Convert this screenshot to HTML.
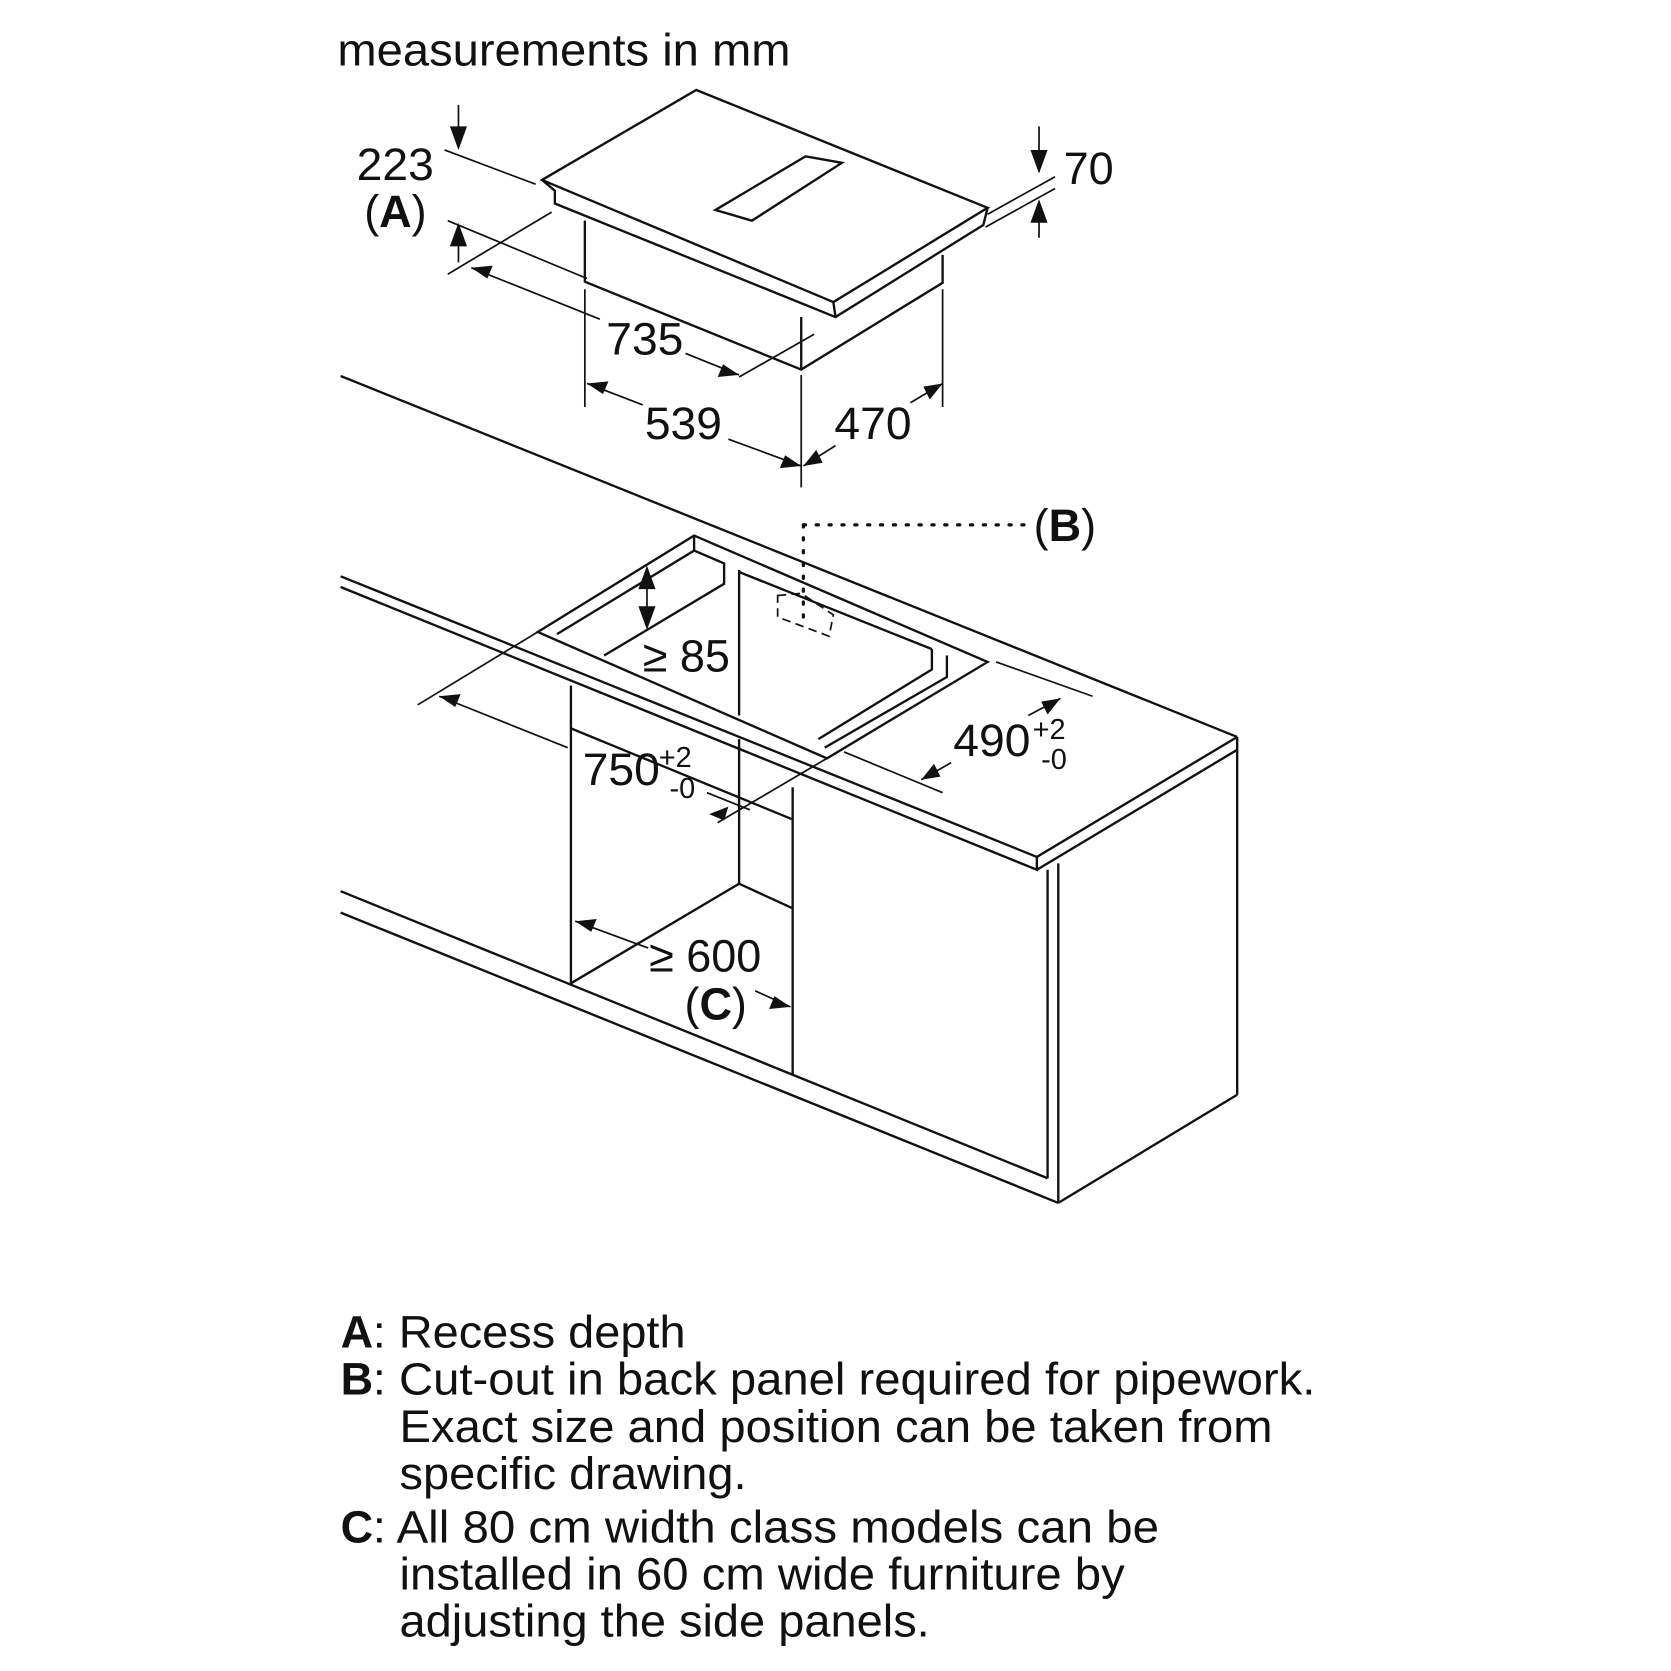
<!DOCTYPE html>
<html><head><meta charset="utf-8"><style>
html,body{margin:0;padding:0;background:#fff}
svg{display:block}
text{font-family:"Liberation Sans",sans-serif;fill:#111}
</style></head><body>
<svg width="1671" height="1671" viewBox="0 0 1560 1560" xmlns="http://www.w3.org/2000/svg">
<g stroke="#111" fill="none" stroke-width="2.2" stroke-linejoin="miter">
<polygon points="506,168 650,84 922,194 778,282" fill="#fff"/>
<polyline points="506,168 518,178 518,190 780,296 918,210 922,194"/>
<line x1="778" y1="282" x2="780" y2="296"/>
<polygon points="668,196 752,146 786,152 702,206" />
<polyline points="546,206 546,263 748,345 880,264 880,238"/>
<line x1="748" y1="296" x2="748" y2="345"/>
<line x1="318" y1="351" x2="1155" y2="688"/>
<polyline points="318,538 968,800 1155,688"/>
<polyline points="318,548 968,812 968,800"/>
<line x1="968" y1="812" x2="1155" y2="700"/>
<line x1="1155" y1="688" x2="1155" y2="1022"/>
<line x1="978" y1="812" x2="978" y2="1100"/>
<line x1="988" y1="806" x2="988" y2="1123"/>
<line x1="988" y1="1123" x2="1155" y2="1022"/>
<line x1="318" y1="832" x2="978" y2="1100"/>
<line x1="318" y1="852" x2="988" y2="1123"/>
<polygon points="502,590 648,500 922,618 772,708" fill="#fff"/>
<polyline points="520,592 648,514 676,526 676,545 564,612"/>
<polyline points="648,514 648,500"/>
<polyline points="870,606 870,625 764,690"/>
<polyline points="884,612 884,632 770,698"/>
<line x1="690" y1="532" x2="690" y2="668"/>
<line x1="690" y1="534" x2="870" y2="606"/>
<line x1="533" y1="640" x2="533" y2="918"/>
<line x1="740" y1="735" x2="740" y2="1003"/>
<line x1="690" y1="690" x2="690" y2="825"/>
<polyline points="533,918 690,825 740,848"/>
<line x1="533" y1="680" x2="740" y2="765"/>
</g>
<g stroke="#111" fill="none" stroke-width="1.6">
<line x1="415" y1="140" x2="500" y2="172"/>
<line x1="418" y1="206" x2="548" y2="260"/>
<line x1="418" y1="256" x2="515" y2="198"/>
<line x1="440" y1="250" x2="560" y2="298"/>
<line x1="640" y1="330" x2="690" y2="350"/>
<line x1="690" y1="352" x2="760" y2="312"/>
<line x1="546" y1="270" x2="546" y2="380"/>
<line x1="748" y1="350" x2="748" y2="455"/>
<line x1="880" y1="270" x2="880" y2="380"/>
<line x1="548" y1="358" x2="600" y2="378"/>
<line x1="680" y1="410" x2="748" y2="435"/>
<line x1="750" y1="435" x2="780" y2="416"/>
<line x1="850" y1="376" x2="880" y2="358"/>
<line x1="428" y1="98" x2="428" y2="138"/>
<line x1="428" y1="245" x2="428" y2="210"/>
<line x1="922" y1="200" x2="985" y2="165"/>
<line x1="920" y1="212" x2="985" y2="176"/>
<line x1="970" y1="118" x2="970" y2="160"/>
<line x1="970" y1="222" x2="970" y2="188"/>
<line x1="390" y1="658" x2="502" y2="590"/>
<line x1="410" y1="650" x2="530" y2="698"/>
<line x1="660" y1="740" x2="700" y2="756"/>
<line x1="670" y1="768" x2="772" y2="708"/>
<line x1="788" y1="702" x2="880" y2="740"/>
<line x1="930" y1="618" x2="1020" y2="650"/>
<line x1="860" y1="728" x2="888" y2="712"/>
<line x1="960" y1="668" x2="990" y2="652"/>
<line x1="604" y1="530" x2="604" y2="585"/>
<line x1="537" y1="860" x2="605" y2="885"/>
<line x1="705" y1="925" x2="738" y2="940"/>
<polygon points="726,556 748,554 778,574 774,594 726,576" stroke-dasharray="8,5"/>
</g>
<line x1="750" y1="490" x2="958" y2="490" stroke="#111" stroke-width="3" stroke-dasharray="2,10" stroke-linecap="round"/>
<line x1="750" y1="490" x2="750" y2="580" stroke="#111" stroke-width="3" stroke-dasharray="2,10" stroke-linecap="round"/>
<g fill="#111">
<polygon points="428,140 420,118 436,118"/>
<polygon points="428,208 420,230 436,230"/>
<polygon points="440,250 460,248 455,260"/>
<polygon points="690,350 670,352 675,340"/>
<polygon points="548,358 568,356 563,368"/>
<polygon points="748,435 728,437 733,425"/>
<polygon points="750,435 762,420 768,432"/>
<polygon points="880,358 868,373 862,361"/>
<polygon points="970,162 962,140 978,140"/>
<polygon points="970,186 962,208 978,208"/>
<polygon points="410,650 430,648 425,660"/>
<polygon points="662,760 680,753 676,766"/>
<polygon points="860,728 872,713 878,725"/>
<polygon points="990,652 978,667 972,655"/>
<polygon points="604,528 596,550 612,550"/>
<polygon points="604,588 596,566 612,566"/>
<polygon points="537,860 557,858 552,870"/>
<polygon points="738,940 718,942 723,930"/>
</g>
<g font-size="42">
<text x="315" y="61" textLength="423" lengthAdjust="spacingAndGlyphs">measurements in mm</text>
<text x="333" y="168" textLength="72" lengthAdjust="spacingAndGlyphs">223</text>
<text x="340" y="212">(<tspan font-weight="bold">A</tspan>)</text>
<text x="566" y="331" textLength="72" lengthAdjust="spacingAndGlyphs">735</text>
<text x="602" y="410" textLength="72" lengthAdjust="spacingAndGlyphs">539</text>
<text x="779" y="410" textLength="72" lengthAdjust="spacingAndGlyphs">470</text>
<text x="993" y="172">70</text>
<text x="965" y="505">(<tspan font-weight="bold">B</tspan>)</text>
<text x="600" y="627">≥ 85</text>
<text x="890" y="706" textLength="72" lengthAdjust="spacingAndGlyphs">490</text>
<text x="964" y="690" font-size="27">+2</text>
<text x="972" y="718" font-size="27">-0</text>
<text x="544" y="733" textLength="72" lengthAdjust="spacingAndGlyphs">750</text>
<text x="615" y="716" font-size="27">+2</text>
<text x="625" y="745" font-size="27">-0</text>
<text x="606" y="907">≥ 600</text>
<text x="639" y="952">(<tspan font-weight="bold">C</tspan>)</text>
</g>
<g font-size="42">
<text x="318" y="1258" font-weight="bold">A</text><text x="348" y="1258" textLength="292" lengthAdjust="spacingAndGlyphs">: Recess depth</text>
<text x="318" y="1302" font-weight="bold">B</text><text x="348" y="1302" textLength="880" lengthAdjust="spacingAndGlyphs">: Cut-out in back panel required for pipework.</text>
<text x="373" y="1346" textLength="815" lengthAdjust="spacingAndGlyphs">Exact size and position can be taken from</text>
<text x="373" y="1390" textLength="324" lengthAdjust="spacingAndGlyphs">specific drawing.</text>
<text x="318" y="1440" font-weight="bold">C</text><text x="348" y="1440" textLength="734" lengthAdjust="spacingAndGlyphs">: All 80 cm width class models can be</text>
<text x="373" y="1484" textLength="677" lengthAdjust="spacingAndGlyphs">installed in 60 cm wide furniture by</text>
<text x="373" y="1528" textLength="495" lengthAdjust="spacingAndGlyphs">adjusting the side panels.</text>
</g>
</svg>
</body></html>
